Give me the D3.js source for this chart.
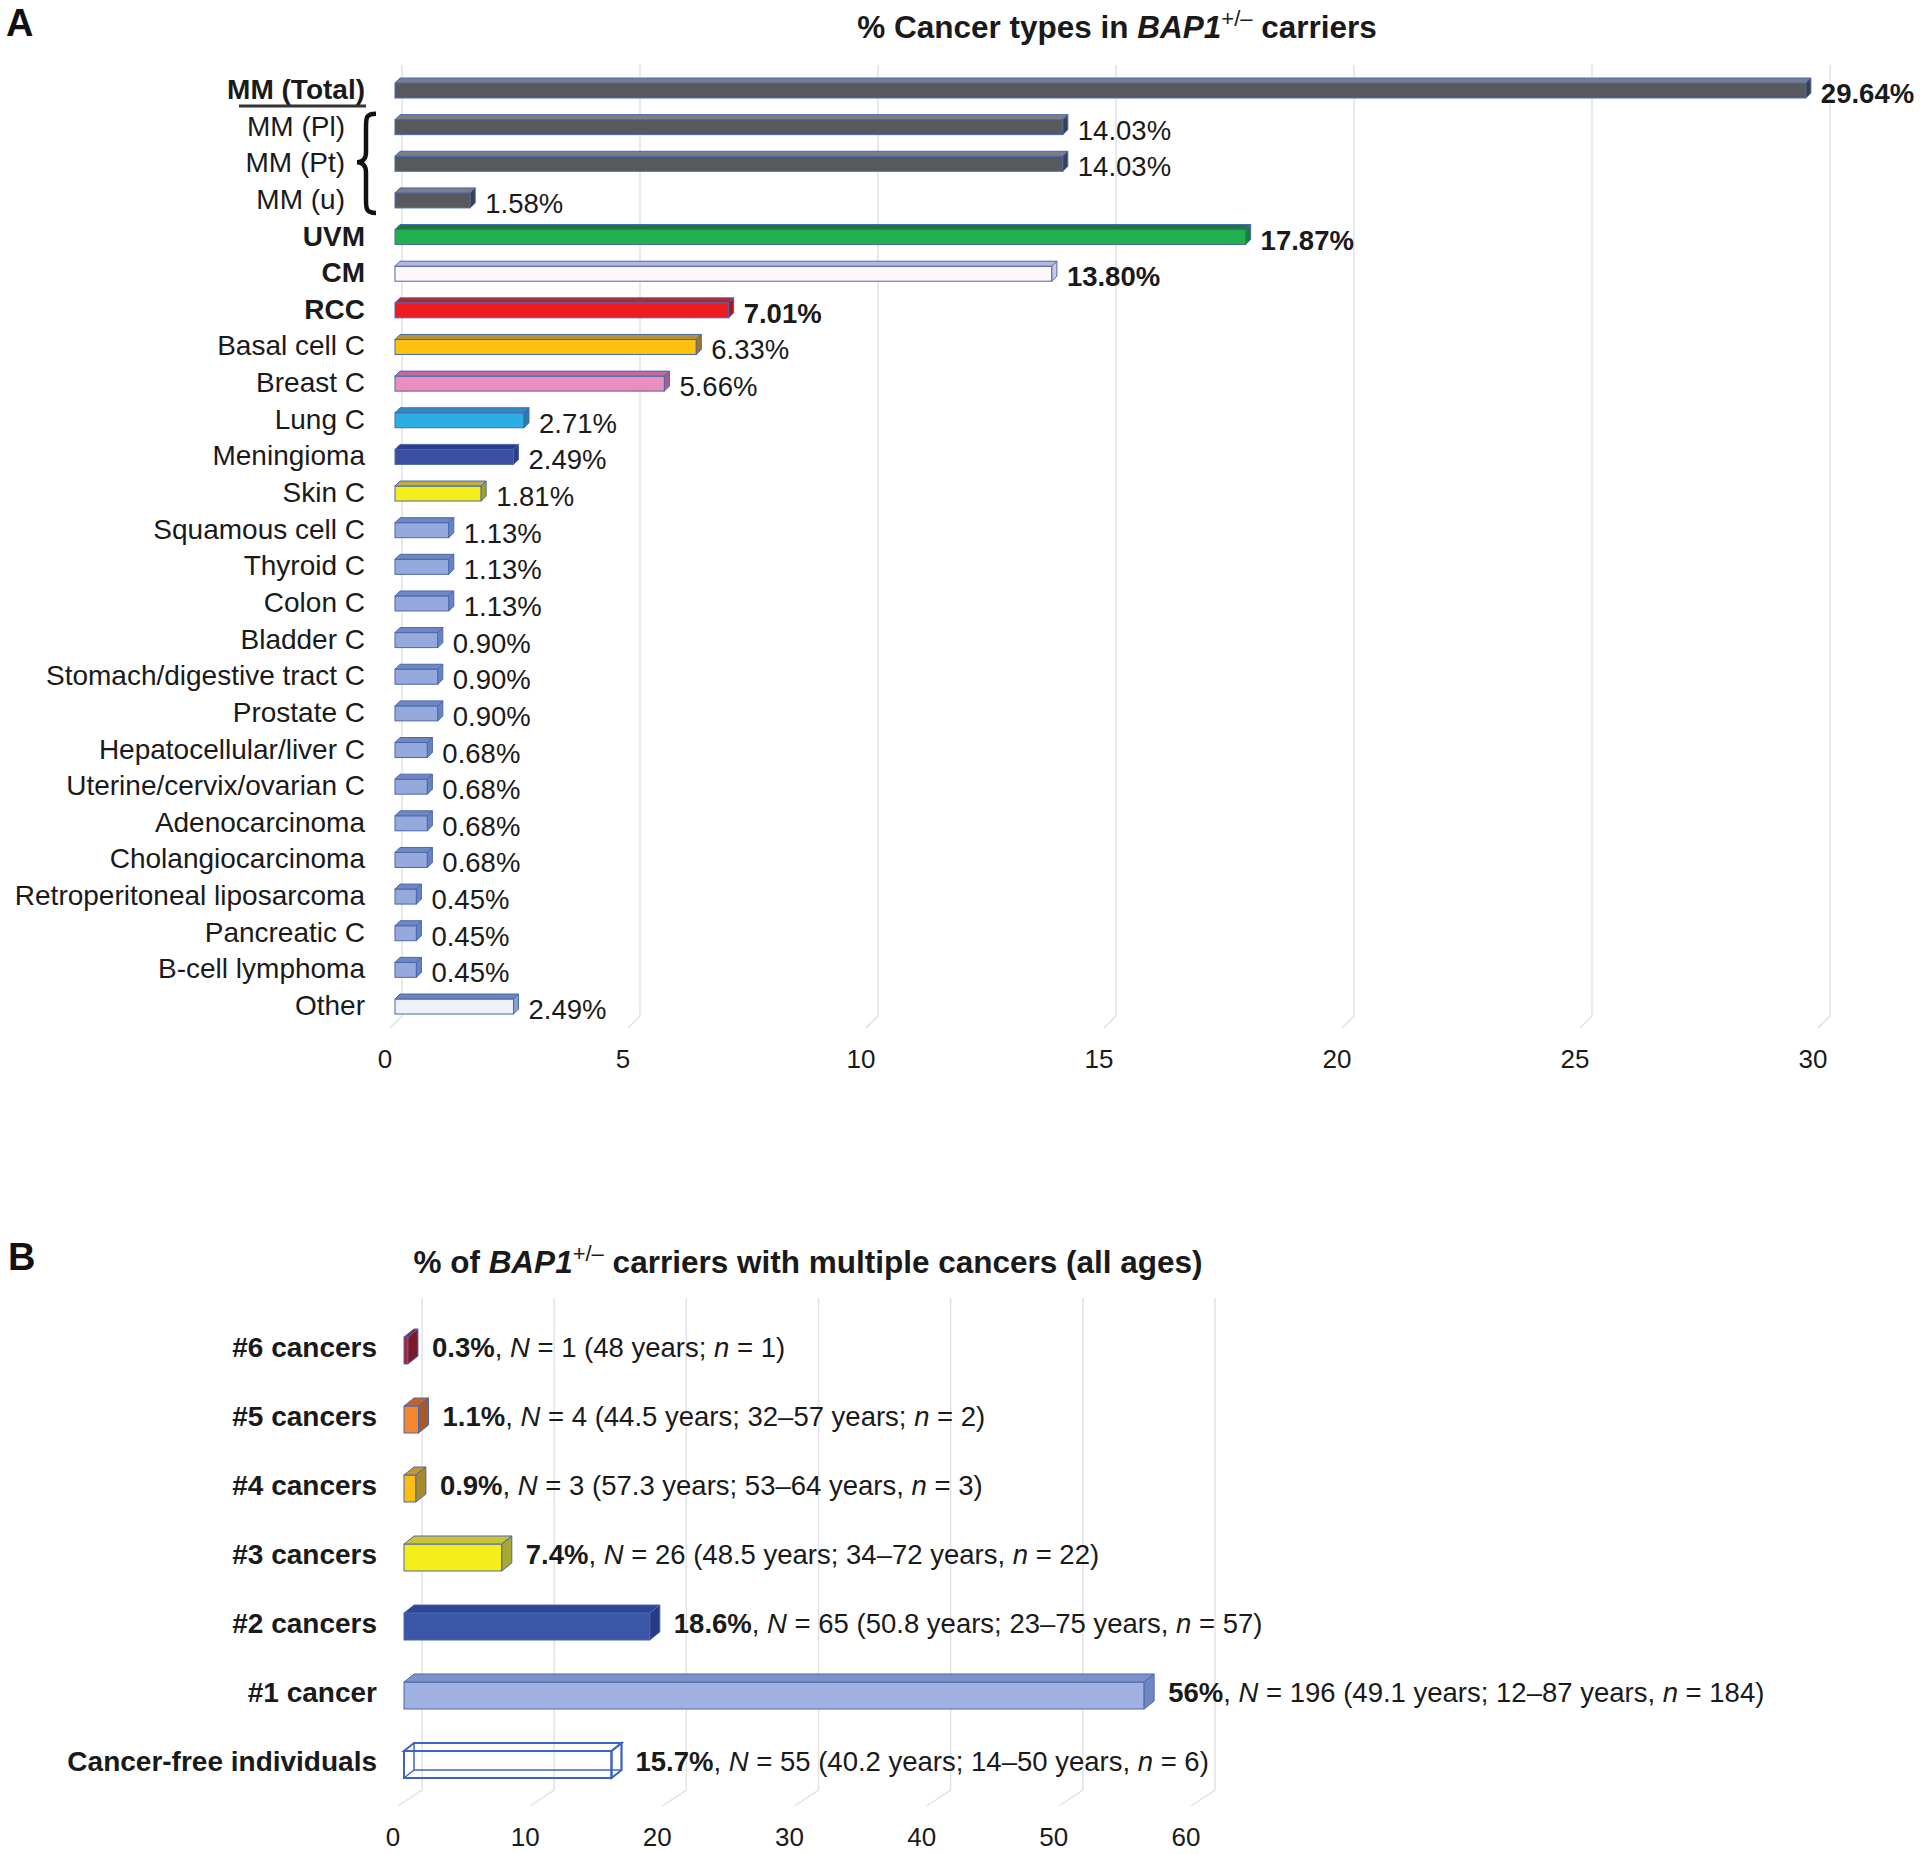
<!DOCTYPE html>
<meta charset="utf-8">
<style>
body { margin: 0; background: #fff; }
svg { font-family: "Liberation Sans", Arial, Helvetica, sans-serif; }
.grid { stroke: #e2e2e6; stroke-width: 1.5; fill: none; }
.tick { font-size: 26px; fill: #1a1a1a; text-anchor: middle; }
.cat { font-size: 28px; fill: #1a1a1a; text-anchor: end; }
.val { font-size: 27.5px; fill: #1a1a1a; }
.title { font-size: 31.5px; font-weight: bold; fill: #1a1a1a; text-anchor: middle; }
.panel { font-size: 38px; font-weight: bold; fill: #111; }
</style>
<svg width="1920" height="1854"></svg>
<script src="https://d3js.org/d3.v7.min.js"></script>
<script>

// ---- panel A data ----
var catsA = ["MM (Total)", "MM (Pl)", "MM (Pt)", "MM (u)", "UVM", "CM", "RCC",
  "Basal cell C", "Breast C", "Lung C", "Meningioma", "Skin C", "Squamous cell C",
  "Thyroid C", "Colon C", "Bladder C", "Stomach/digestive tract C", "Prostate C",
  "Hepatocellular/liver C", "Uterine/cervix/ovarian C", "Adenocarcinoma",
  "Cholangiocarcinoma", "Retroperitoneal liposarcoma", "Pancreatic C",
  "B-cell lymphoma", "Other"];
var valsA = [29.64, 14.03, 14.03, 1.58, 17.87, 13.80, 7.01, 6.33, 5.66, 2.71, 2.49,
  1.81, 1.13, 1.13, 1.13, 0.90, 0.90, 0.90, 0.68, 0.68, 0.68, 0.68, 0.45, 0.45,
  0.45, 2.49];
var boldA = ["MM (Total)", "UVM", "CM", "RCC"];
var subA = ["MM (Pl)", "MM (Pt)", "MM (u)"];
var ticksA = [0, 5, 10, 15, 20, 25, 30];

// ---- panel B data ----
var catsB = ["#6 cancers", "#5 cancers", "#4 cancers", "#3 cancers", "#2 cancers",
  "#1 cancer", "Cancer-free individuals"];
var valsB = [0.3, 1.1, 0.9, 7.4, 18.6, 56, 15.7];
var countB = [1, 4, 3, 26, 65, 196, 55];
var agesB = ["48 years;", "44.5 years; 32–57 years;", "57.3 years; 53–64 years,",
  "48.5 years; 34–72 years,", "50.8 years; 23–75 years,", "49.1 years; 12–87 years,",
  "40.2 years; 14–50 years,"];
var nB = [1, 2, 3, 22, 57, 184, 6];
var ticksB = [0, 10, 20, 30, 40, 50, 60];

// face colours [front, top, side]
var smallCol = ["#96a9dc", "#6f88c4", "#6a84c0"];
var colA = {
  "MM (Total)": ["#58595c", "#7b7e84", "#3c4048"],
  "MM (Pl)": ["#58595c", "#7b7e84", "#3c4048"],
  "MM (Pt)": ["#58595c", "#7b7e84", "#3c4048"],
  "MM (u)": ["#58595c", "#7b7e84", "#3c4048"],
  "UVM": ["#21b04b", "#187a3c", "#17803c"],
  "CM": ["#fdf7fa", "#b5b6d9", "#c8c8e4"],
  "RCC": ["#ec1c24", "#b3262c", "#a01a20"],
  "Basal cell C": ["#fec10e", "#b8903a", "#a07a20"],
  "Breast C": ["#ea8fbd", "#c46a9a", "#b45a8a"],
  "Lung C": ["#2aaee4", "#2a8cc0", "#2a7ab0"],
  "Meningioma": ["#3a4fa2", "#2c3d8a", "#2c3d8a"],
  "Skin C": ["#f4ec1c", "#b8b040", "#a0a030"],
  "Other": ["#eef1f8", "#6a84c0", "#8aa0d0"]
};
var colB = [
  ["#b51f30", "#8a2030", "#7d1a28"],
  ["#f2872e", "#c0652a", "#a8592a"],
  ["#fbbf14", "#c29a2a", "#a88a2a"],
  ["#f4ee1a", "#c8c43a", "#a8a834"],
  ["#3b55a7", "#2e4595", "#263b88"],
  ["#9eb1e0", "#7d92c6", "#6f86bf"],
  ["#ffffff", "#ffffff", "#ffffff"]
];

var svg = d3.select("svg");

// draw one 3D bar: front rect, top and right faces
function bar3d(g, x0, x1, yTop, h, dx, dy, c, stroke, wire) {
  var b = yTop + h;
  if (wire) {
    g.append("rect").attr("x", x0 + dx).attr("y", yTop - dy)
      .attr("width", x1 - x0).attr("height", h)
      .attr("fill", "none").attr("stroke", stroke).attr("stroke-width", 1.5);
    g.append("line").attr("x1", x0).attr("y1", b).attr("x2", x0 + dx).attr("y2", b - dy)
      .attr("stroke", stroke).attr("stroke-width", 1.5);
  }
  g.append("rect").attr("x", x0).attr("y", yTop)
    .attr("width", Math.max(x1 - x0, 1)).attr("height", h)
    .attr("fill", wire ? "none" : c[0]).attr("stroke", stroke).attr("stroke-width", wire ? 2 : 1);
  g.append("path")
    .attr("d", "M" + x0 + "," + yTop + "L" + (x0 + dx) + "," + (yTop - dy) +
      "L" + (x1 + dx) + "," + (yTop - dy) + "L" + x1 + "," + yTop + "Z")
    .attr("fill", wire ? "none" : c[1]).attr("stroke", stroke).attr("stroke-width", wire ? 2 : 1);
  g.append("path")
    .attr("d", "M" + x1 + "," + yTop + "L" + (x1 + dx) + "," + (yTop - dy) +
      "L" + (x1 + dx) + "," + (b - dy) + "L" + x1 + "," + b + "Z")
    .attr("fill", wire ? "none" : c[2]).attr("stroke", stroke).attr("stroke-width", wire ? 2 : 1);
}

// ================= Panel A =================
var xA = d3.scaleLinear().domain([0, 30]).range([395, 1823]);
var yA = d3.scalePoint().domain(catsA).range([89, 1005]);
var gA = svg.append("g");

svg.append("text").attr("class", "panel").attr("x", 6).attr("y", 36).text("A");

var tA = svg.append("text").attr("class", "title").attr("x", 1117).attr("y", 38);
tA.append("tspan").text("% Cancer types in ");
tA.append("tspan").attr("font-style", "italic").text("BAP1");
tA.append("tspan").attr("baseline-shift", "super").attr("font-size", "22px")
  .attr("font-weight", "normal").text("+/–");
tA.append("tspan").text(" carriers");

// back-wall gridlines with floor slant
ticksA.forEach(function (t) {
  var gx = xA(t) + 7;
  gA.append("path").attr("class", "grid")
    .attr("d", "M" + gx + ",65L" + gx + ",1016L" + (gx - 12) + ",1028");
  gA.append("text").attr("class", "tick").attr("x", xA(t) - 10).attr("y", 1068).text(t);
});

catsA.forEach(function (c, i) {
  var yc = yA(c), v = valsA[i];
  var col = colA[c] || smallCol;
  var isBold = boldA.indexOf(c) >= 0;
  bar3d(gA, xA(0), xA(v), yc - 6, 15, 5, 5, col, "#4a67b0", false);
  gA.append("text").attr("class", "cat")
    .attr("x", subA.indexOf(c) >= 0 ? 345 : 365).attr("y", yc + 10)
    .attr("font-weight", isBold ? "bold" : "normal").text(c);
  gA.append("text").attr("class", "val")
    .attr("x", xA(v) + 15).attr("y", yc + 14)
    .attr("font-weight", isBold ? "bold" : "normal")
    .text(v.toFixed(2) + "%");
});

// underline under MM (Total) and brace for the MM subtypes
gA.append("line").attr("x1", 239).attr("x2", 366).attr("y1", 106).attr("y2", 106)
  .attr("stroke", "#333").attr("stroke-width", 3);
var bT = yA("MM (Pl)") - 12, bM = yA("MM (Pt)"), bB = yA("MM (u)") + 14;
gA.append("path")
  .attr("d", "M376," + bT + "C366," + bT + " 366," + (bT + 4) + " 366," + (bT + 14) +
    "L366," + (bM - 10) + "C366," + (bM - 3) + " 362," + bM + " 357," + bM +
    "C362," + bM + " 366," + (bM + 3) + " 366," + (bM + 10) +
    "L366," + (bB - 14) + "C366," + (bB - 4) + " 366," + bB + " 376," + bB)
  .attr("fill", "none").attr("stroke", "#111").attr("stroke-width", 4.5);

// ================= Panel B =================
var xB = d3.scaleLinear().domain([0, 60]).range([404, 1197]);
var yB = d3.scalePoint().domain(catsB).range([1347, 1761]);
var gB = svg.append("g");

svg.append("text").attr("class", "panel").attr("x", 8).attr("y", 1270).text("B");

var tB = svg.append("text").attr("class", "title").attr("x", 808).attr("y", 1273);
tB.append("tspan").text("% of ");
tB.append("tspan").attr("font-style", "italic").text("BAP1");
tB.append("tspan").attr("baseline-shift", "super").attr("font-size", "22px")
  .attr("font-weight", "normal").text("+/–");
tB.append("tspan").text(" carriers with multiple cancers (all ages)");

ticksB.forEach(function (t) {
  var gx = xB(t) + 18;
  gB.append("path").attr("class", "grid")
    .attr("d", "M" + gx + ",1298L" + gx + ",1790L" + (gx - 24) + ",1806");
  gB.append("text").attr("class", "tick").attr("x", xB(t) - 11).attr("y", 1846).text(t);
});

catsB.forEach(function (c, i) {
  var yc = yB(c), v = valsB[i];
  var wire = i === catsB.length - 1;
  bar3d(gB, xB(0), xB(v), yc - 10, 27, 10, 8, colB[i], wire ? "#3f63c4" : "#4a67b0", wire);
  gB.append("text").attr("class", "cat").attr("x", 377).attr("y", yc + 10)
    .attr("font-weight", "bold").text(c);
  var t = gB.append("text").attr("class", "val").attr("font-size", "29px")
    .attr("x", xB(v) + 24).attr("y", yc + 10);
  t.append("tspan").attr("font-weight", "bold").text(v + "%");
  t.append("tspan").text(", ");
  t.append("tspan").attr("font-style", "italic").text("N");
  t.append("tspan").text(" = " + countB[i] + " (" + agesB[i] + " ");
  t.append("tspan").attr("font-style", "italic").text("n");
  t.append("tspan").text(" = " + nB[i] + ")");
});

</script>
